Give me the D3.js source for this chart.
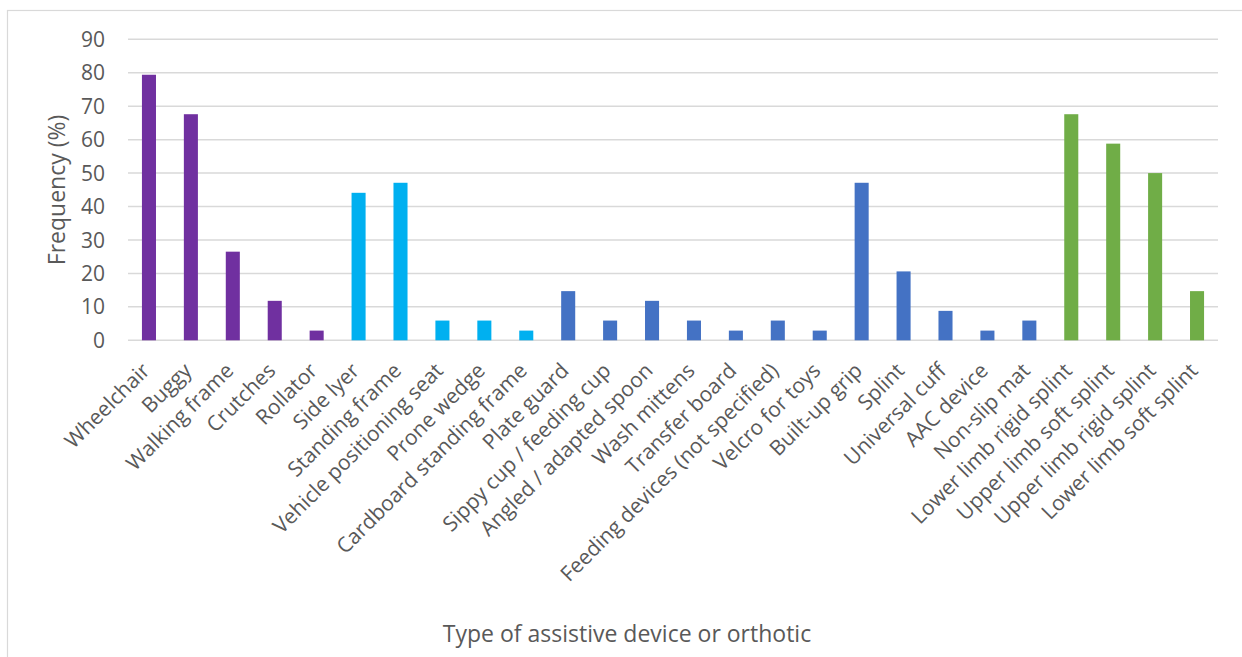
<!DOCTYPE html>
<head>
  <meta charset="utf-8" />
  <script src="https://d3js.org/d3.v7.min.js"></script>
  <style>
    body { margin: 0; background: #fff; }
    text { font-family: "Open Sans", sans-serif; fill: #595959; }
  </style>
</head>
<body>
<script>
  // categories, values (%) and the group each device belongs to
  var devices = ["Wheelchair", "Buggy", "Walking frame", "Crutches", "Rollator",
    "Side lyer", "Standing frame", "Vehicle positioning seat", "Prone wedge", "Cardboard standing frame",
    "Plate guard", "Sippy cup / feeding cup", "Angled / adapted spoon", "Wash mittens", "Transfer board",
    "Feeding devices (not specified)", "Velcro for toys", "Built-up grip", "Splint", "Universal cuff",
    "AAC device", "Non-slip mat", "Lower limb rigid splint", "Upper limb soft splint",
    "Upper limb rigid splint", "Lower limb soft splint"];
  var frequency = [79.4, 67.6, 26.5, 11.8, 2.9,
    44.1, 47.1, 5.9, 5.9, 2.9,
    14.7, 5.9, 11.8, 5.9, 2.9,
    5.9, 2.9, 47.1, 20.6, 8.8,
    2.9, 5.9, 67.6, 58.8,
    50.0, 14.7];
  var groups = ["mobility", "mobility", "mobility", "mobility", "mobility",
    "positioning", "positioning", "positioning", "positioning", "positioning",
    "daily", "daily", "daily", "daily", "daily",
    "daily", "daily", "daily", "daily", "daily",
    "daily", "daily", "orthotic", "orthotic",
    "orthotic", "orthotic"];
  var yTicks = [0, 10, 20, 30, 40, 50, 60, 70, 80, 90];

  var width = 1242, height = 657;
  var svg = d3.select("body").append("svg")
    .attr("width", width).attr("height", height);

  // chart frame (cropped on the right and bottom)
  svg.append("rect")
    .attr("x", 7.5).attr("y", 10.5)
    .attr("width", 1260).attr("height", 700)
    .attr("fill", "none").attr("stroke", "#d9d9d9").attr("stroke-width", 1.2);

  var color = d3.scaleOrdinal()
    .domain(["mobility", "positioning", "daily", "orthotic"])
    .range(["#7030a0", "#00b0f0", "#4472c4", "#70ad47"]);

  var x = d3.scaleBand().domain(devices).range([128, 1218])
    .paddingInner(0.665).paddingOuter(0.3325);
  var y = d3.scaleLinear().domain([0, 90]).range([340.3, 39.3]);

  // gridlines
  svg.append("g").selectAll("line").data(yTicks).join("line")
    .attr("x1", 128).attr("x2", 1218)
    .attr("y1", d => y(d)).attr("y2", d => y(d))
    .attr("stroke", "#d9d9d9").attr("stroke-width", 1.5);

  // y tick labels
  svg.append("g").selectAll("text").data(yTicks).join("text")
    .attr("x", 105).attr("y", d => y(d))
    .attr("dy", "0.36em")
    .attr("text-anchor", "end")
    .attr("font-size", 21)
    .text(d => d);

  // bars
  svg.append("g").selectAll("rect").data(devices).join("rect")
    .attr("x", d => x(d))
    .attr("width", x.bandwidth())
    .attr("y", (d, i) => y(frequency[i]))
    .attr("height", (d, i) => y(0) - y(frequency[i]))
    .attr("fill", (d, i) => color(groups[i]));

  // category labels, rotated
  svg.append("g").selectAll("text").data(devices).join("text")
    .attr("transform", d => "translate(" + (x(d) + x.bandwidth() / 2 + 2) + ",372) rotate(-45)")
    .attr("text-anchor", "end")
    .attr("font-size", 21)
    .text(d => d);

  // axis titles
  svg.append("text")
    .attr("transform", "translate(65,190) rotate(-90)")
    .attr("text-anchor", "middle")
    .attr("font-size", 23)
    .text("Frequency (%)");

  svg.append("text")
    .attr("x", 627).attr("y", 642)
    .attr("text-anchor", "middle")
    .attr("font-size", 23)
    .text("Type of assistive device or orthotic");
</script>
</body>
